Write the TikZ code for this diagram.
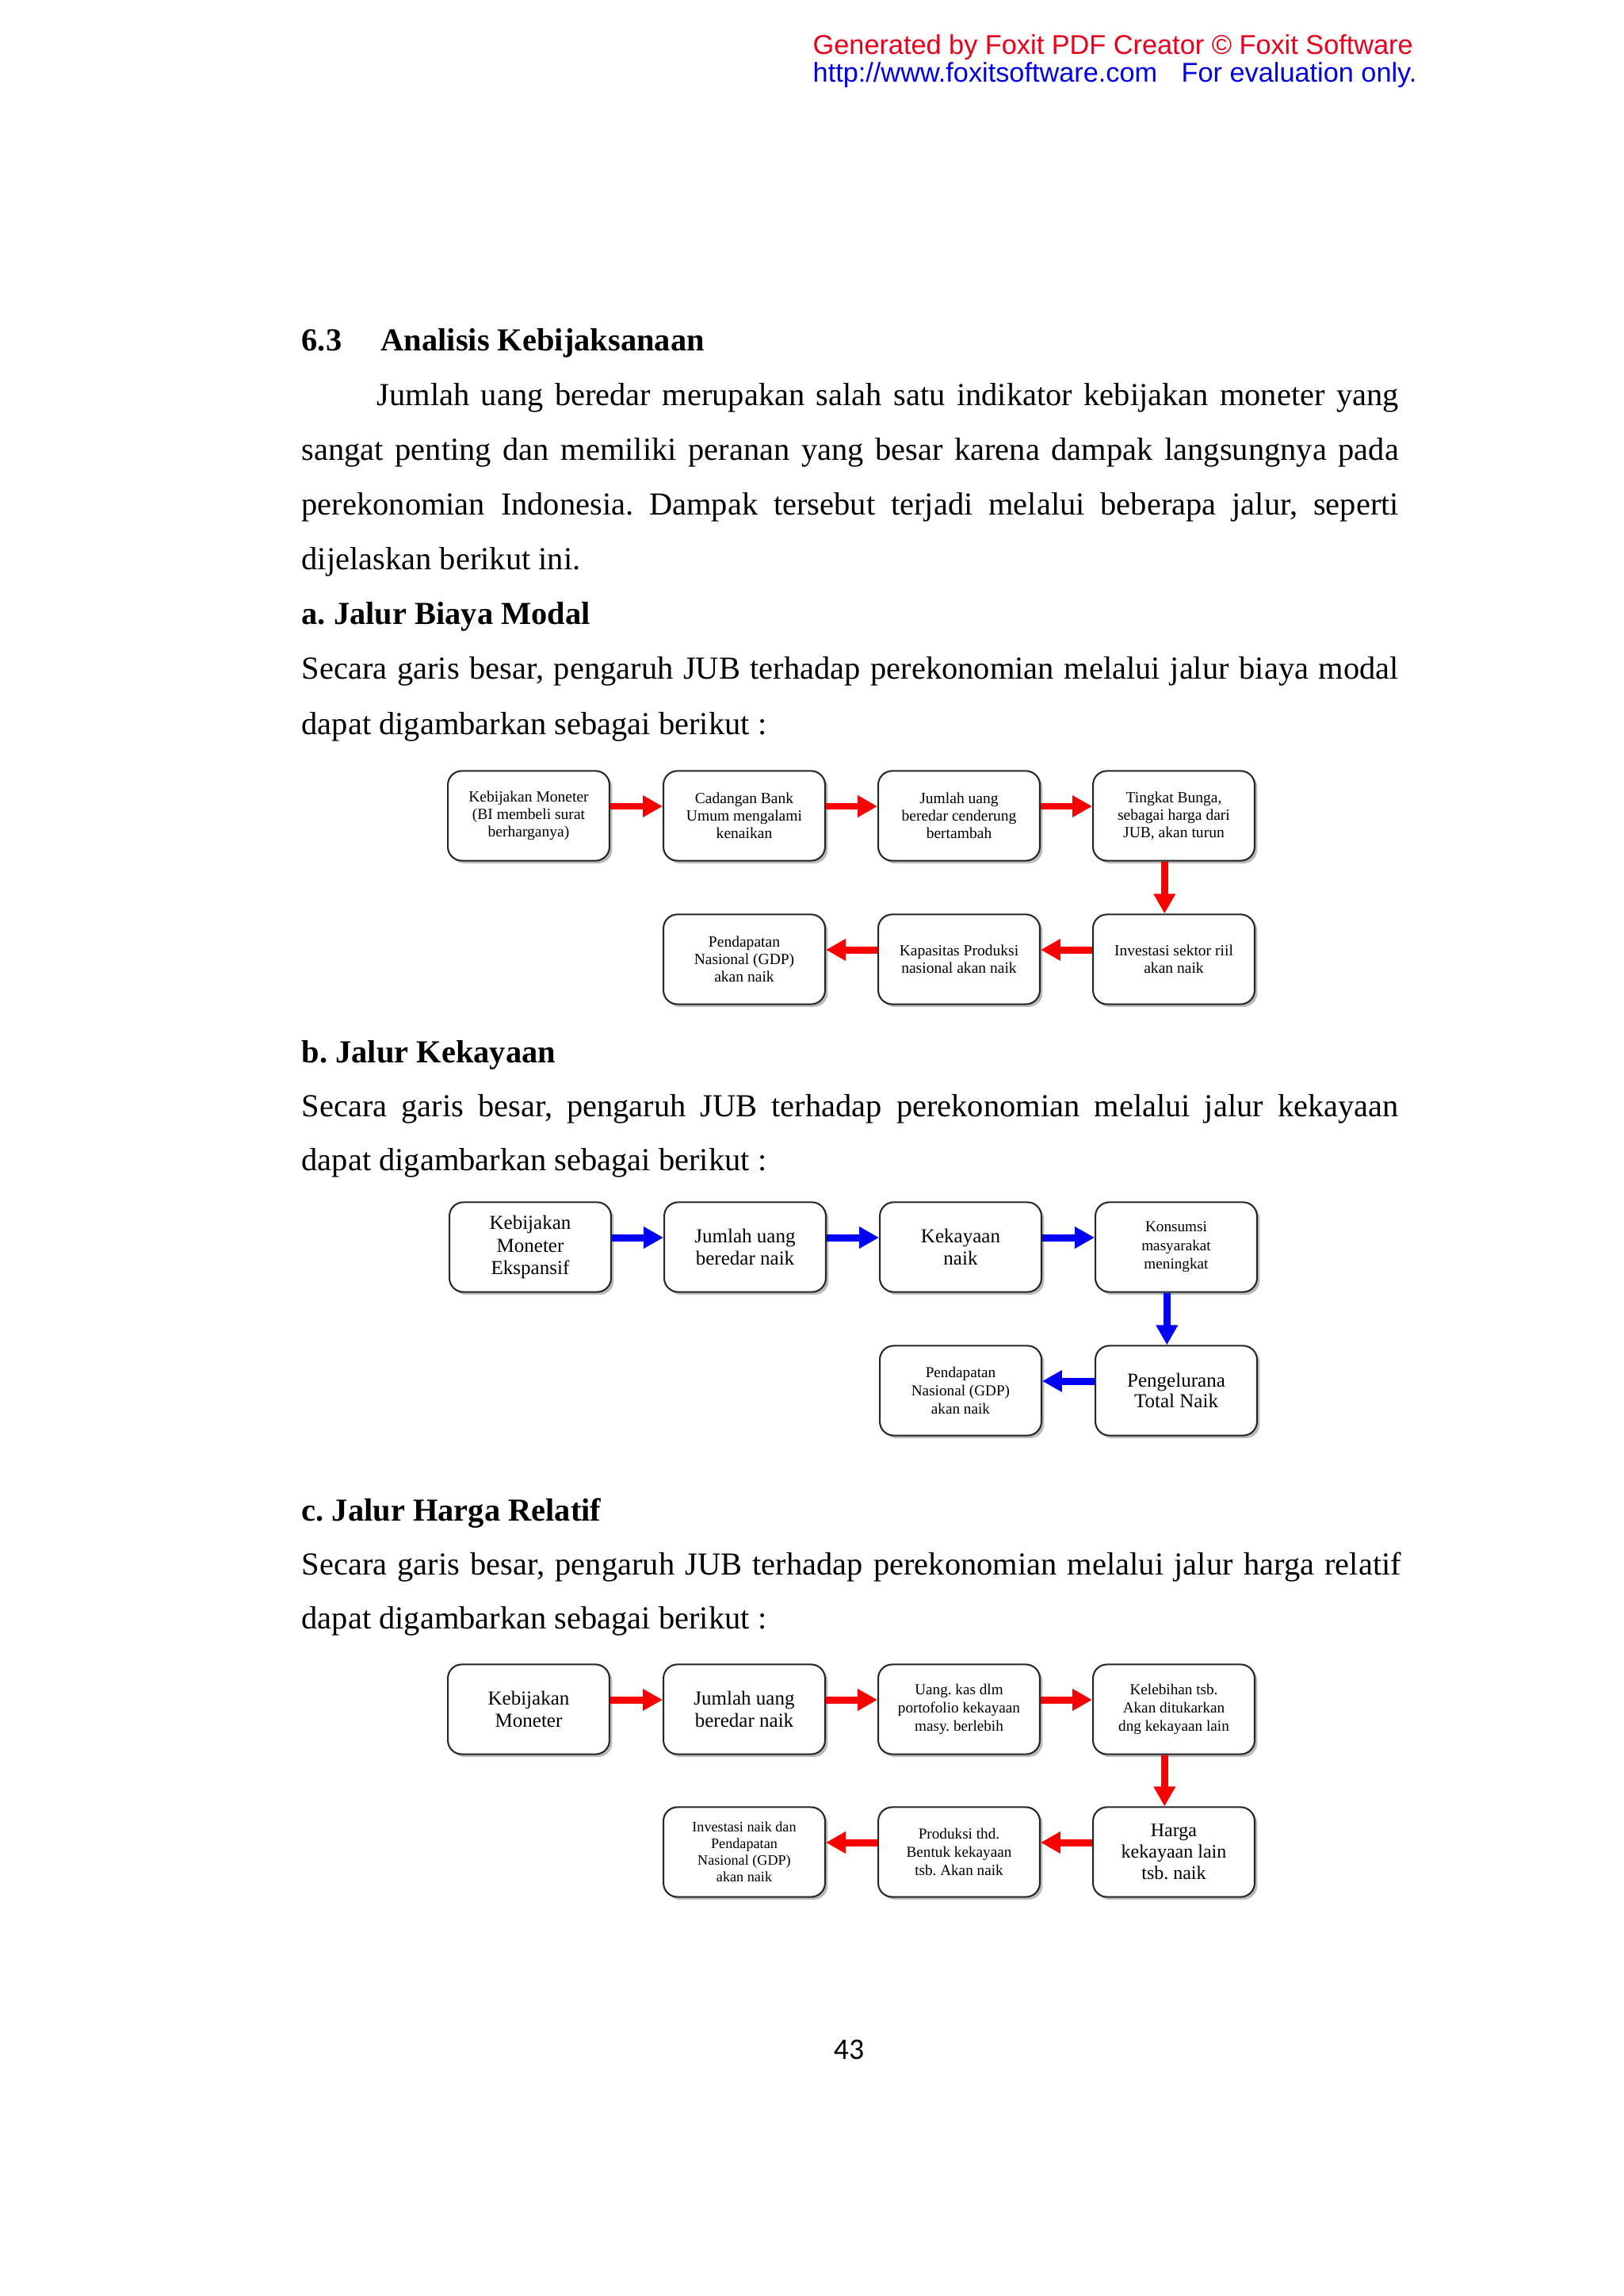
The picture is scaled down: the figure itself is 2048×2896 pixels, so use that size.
\documentclass[tikz,border=0pt]{standalone}
\usepackage{fontspec}
\setmainfont{Liberation Serif}
\newfontfamily\arialf{Liberation Sans}
\newfontfamily\calib{Carlito}
\usetikzlibrary{arrows.meta,shadows}
\definecolor{foxred}{RGB}{232,0,28}
\definecolor{foxblue}{RGB}{0,0,230}
\definecolor{arrred}{RGB}{250,0,0}
\definecolor{arrblue}{RGB}{0,0,250}
\frenchspacing
\begin{document}
\begin{tikzpicture}[x=0.1025mm,y=-0.1025mm,
 body/.style={anchor=base west,inner sep=0pt,font=\fontsize{11.8}{14}\selectfont},
 bhead/.style={anchor=base west,inner sep=0pt,font=\fontsize{11.8}{14}\selectfont\bfseries},
 bx/.style={draw=black!85,line width=0.6pt,rounded corners=1.8mm,fill=white,
   minimum width=20.9mm,minimum height=11.6mm,inner sep=0pt,align=center,
   drop shadow={shadow xshift=0.35mm,shadow yshift=-0.35mm,fill=black!45,opacity=0.6}},
 fs/.style={font=\fontsize{5.7}{6.5}\selectfont},
 fm/.style={font=\fontsize{7.3}{8.3}\selectfont},
 ra/.style={draw=arrred,line width=0.92mm,-{Triangle[length=2.56mm,width=2.67mm]}},
 ba/.style={draw=arrblue,line width=0.92mm,-{Triangle[length=2.56mm,width=2.67mm]}},
]
\fill[white] (0,0) rectangle (2048,2896);
\useasboundingbox (0,0) rectangle (2048,2896);

% header
\node[anchor=base west,inner sep=0pt,font=\arialf\fontsize{10}{12}\selectfont,text=foxred] (h1) at (1025,68) {Generated by Foxit PDF Creator © Foxit Software};
\node[anchor=base west,inner sep=0pt,font=\arialf\fontsize{10}{12}\selectfont,text=foxblue] (h2) at (1025,103) {http://www.foxitsoftware.com};
\node[anchor=base west,inner sep=0pt,font=\arialf\fontsize{10}{12}\selectfont,text=foxblue] (h3) at (1490,103) {For evaluation only.};

% body text
\node[bhead] (s1) at (380,442) {6.3};
\node[bhead] (s2) at (480,442) {Analisis Kebijaksanaan};
\node[body] (p1) at (475,511) {\makebox[132.12mm][s]{Jumlah uang beredar merupakan salah satu indikator kebijakan moneter yang}};
\node[body] (p2) at (380,580) {\makebox[141.86mm][s]{sangat penting dan memiliki peranan yang besar karena dampak langsungnya pada}};
\node[body] (p3) at (380,649) {\makebox[141.86mm][s]{perekonomian Indonesia. Dampak tersebut terjadi melalui beberapa jalur, seperti}};
\node[body] (p4) at (380,718) {dijelaskan berikut ini.};
\node[bhead] (ha) at (380,787) {a. Jalur Biaya Modal};
\node[body] (pa1) at (380,856) {\makebox[141.86mm][s]{Secara garis besar, pengaruh JUB terhadap perekonomian melalui jalur biaya modal}};
\node[body] (pa2) at (380,926) {dapat digambarkan sebagai berikut :};
\node[bhead] (hb) at (380,1340) {b. Jalur Kekayaan};
\node[body] (pb1) at (380,1408) {\makebox[141.86mm][s]{Secara garis besar, pengaruh JUB terhadap perekonomian melalui jalur kekayaan}};
\node[body] (pb2) at (380,1476) {dapat digambarkan sebagai berikut :};
\node[bhead] (hc) at (380,1918) {c. Jalur Harga Relatif};
\node[body] (pc1) at (380,1986) {\makebox[142.17mm][s]{Secara garis besar, pengaruh JUB terhadap perekonomian melalui jalur harga relatif}};
\node[body] (pc2) at (380,2054) {dapat digambarkan sebagai berikut :};
\node[anchor=base,inner sep=0pt,font=\calib\fontsize{11}{13}\selectfont] (pg) at (1071,2597) {43};

% diagram a
\node[bx,fs] (a1) at (667,1029) {Kebijakan Moneter\\(BI membeli surat\\berharganya)};
\node[bx,fs] (a2) at (939,1029) {Cadangan Bank\\Umum mengalami\\kenaikan};
\node[bx,fs] (a3) at (1210,1029) {Jumlah uang\\beredar cenderung\\bertambah};
\node[bx,fs] (a4) at (1481,1029) {Tingkat Bunga,\\sebagai harga dari\\JUB, akan turun};
\node[bx,fs] (a5) at (1481,1210) {Investasi sektor riil\\akan naik};
\node[bx,fs] (a6) at (1210,1210) {Kapasitas Produksi\\nasional akan naik};
\node[bx,fs] (a7) at (939,1210) {Pendapatan\\Nasional (GDP)\\akan naik};
\draw[ra] ([yshift=1.23mm]a1.east) -- ([yshift=1.23mm]a2.west);
\draw[ra] ([yshift=1.23mm]a2.east) -- ([yshift=1.23mm]a3.west);
\draw[ra] ([yshift=1.23mm]a3.east) -- ([yshift=1.23mm]a4.west);
\draw[ra] ([xshift=-1.2mm]a4.south) -- ([xshift=-1.2mm]a5.north);
\draw[ra] ([yshift=1.23mm]a5.west) -- ([yshift=1.23mm]a6.east);
\draw[ra] ([yshift=1.23mm]a6.west) -- ([yshift=1.23mm]a7.east);

% diagram b
\node[bx,fm] (b1) at (669,1573) {Kebijakan\\Moneter\\Ekspansif};
\node[bx,fm] (b2) at (940,1573) {Jumlah uang\\beredar naik};
\node[bx,fm] (b3) at (1212,1573) {Kekayaan\\naik};
\node[bx,font=\fontsize{5.6}{6.9}\selectfont] (b4) at (1484,1573) {Konsumsi\\masyarakat\\meningkat};
\node[bx,font=\fontsize{7.3}{7.6}\selectfont] (b5) at (1484,1754) {Pengelurana\\Total Naik};
\node[bx,font=\fontsize{5.6}{6.6}\selectfont] (b6) at (1212,1754) {Pendapatan\\Nasional (GDP)\\akan naik};
\draw[ba] ([yshift=1.23mm]b1.east) -- ([yshift=1.23mm]b2.west);
\draw[ba] ([yshift=1.23mm]b2.east) -- ([yshift=1.23mm]b3.west);
\draw[ba] ([yshift=1.23mm]b3.east) -- ([yshift=1.23mm]b4.west);
\draw[ba] ([xshift=-1.2mm]b4.south) -- ([xshift=-1.2mm]b5.north);
\draw[ba] ([yshift=1.23mm]b5.west) -- ([yshift=1.23mm]b6.east);

% diagram c
\node[bx,fm] (c1) at (667,2156) {Kebijakan\\Moneter};
\node[bx,fm] (c2) at (939,2156) {Jumlah uang\\beredar naik};
\node[bx,font=\fontsize{5.6}{6.6}\selectfont] (c3) at (1210,2156) {Uang. kas dlm\\portofolio kekayaan\\masy. berlebih};
\node[bx,font=\fontsize{5.6}{6.6}\selectfont] (c4) at (1481,2156) {Kelebihan tsb.\\Akan ditukarkan\\dng kekayaan lain};
\node[bx,font=\fontsize{7.0}{7.9}\selectfont] (c5) at (1481,2336) {Harga\\kekayaan lain\\tsb. naik};
\node[bx,font=\fontsize{5.6}{6.6}\selectfont] (c6) at (1210,2336) {Produksi thd.\\Bentuk kekayaan\\tsb. Akan naik};
\node[bx,font=\fontsize{5.3}{6.1}\selectfont] (c7) at (939,2336) {Investasi naik dan\\Pendapatan\\Nasional (GDP)\\akan naik};
\draw[ra] ([yshift=1.23mm]c1.east) -- ([yshift=1.23mm]c2.west);
\draw[ra] ([yshift=1.23mm]c2.east) -- ([yshift=1.23mm]c3.west);
\draw[ra] ([yshift=1.23mm]c3.east) -- ([yshift=1.23mm]c4.west);
\draw[ra] ([xshift=-1.2mm]c4.south) -- ([xshift=-1.2mm]c5.north);
\draw[ra] ([yshift=1.23mm]c5.west) -- ([yshift=1.23mm]c6.east);
\draw[ra] ([yshift=1.23mm]c6.west) -- ([yshift=1.23mm]c7.east);
\end{tikzpicture}
\end{document}
